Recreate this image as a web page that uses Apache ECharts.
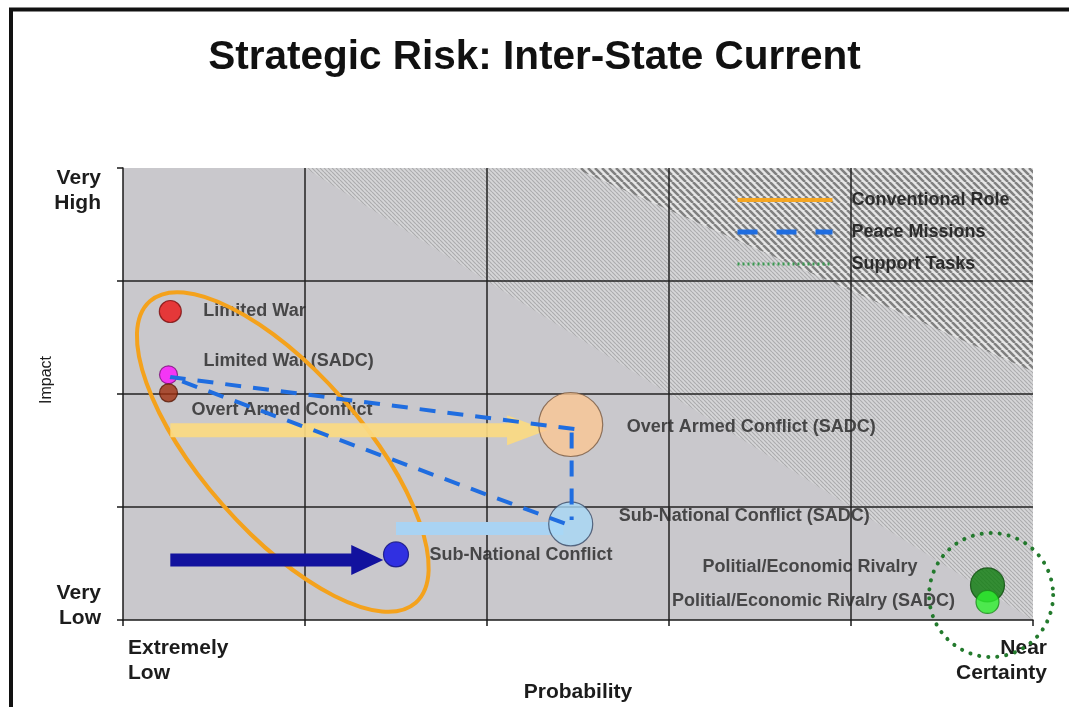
<!DOCTYPE html>
<html><head><meta charset="utf-8">
<script src="https://cdn.jsdelivr.net/npm/echarts@6/dist/echarts.min.js"></script>
<style>html,body{margin:0;padding:0;background:#fff}#c{width:1069px;height:707px}</style>
</head><body><div id="c"></div>
<script>
// ---------- data ----------
const riskNames = ['Limited War','Limited War (SADC)','Overt Armed Conflict','Overt Armed Conflict (SADC)',
  'Sub-National Conflict (SADC)','Sub-National Conflict','Politial/Economic Rivalry','Politial/Economic Rivalry (SADC)'];
const probability = [0.26, 0.25, 0.25, 2.46, 2.46, 1.50, 4.75, 4.75];
const impact      = [2.73, 2.17, 2.01, 1.73, 0.85, 0.58, 0.31, 0.16];
const xTickLabels = {0: 'Extremely\nLow', 5: 'Near\nCertainty'};
const yTickLabels = {0: 'Very\nLow', 4: 'Very\nHigh'};
const legendNames = ['Conventional Role', 'Peace Missions', 'Support Tasks'];
// peace-mission links (probability, impact)
const peaceLinkA = [[2.48, 1.69], [0.26, 2.15], [2.45, 0.84]];
const peaceLinkB = [[2.465, 1.66], [2.465, 0.885]];
// movement arrows: [fromX, fromY, toX, toY]
const arrowMoves = [[0.26, 1.68, 2.33, 1.68], [0.26, 0.53, 1.43, 0.53], [1.50, 0.81, 2.42, 0.81]];
// grouping outlines: centres
const conventionalCentre = [[0.878, 1.487]];
const supportCentre = [[4.77, 0.221]];
// background risk zones (polygons in axis units)
const zoneFine = [[1, 4], [5, 4], [5, 0]];
const zoneDense = [[2.48, 4], [5, 4], [5, 2.2]];

// ---------- styles ----------
const pointColors  = ['#ec1414','#ff12ff','#a0300f','#fbc793','#a8d8f6','#0a0ae6','#0b7a0b','#2ef02e'];
const pointBorders = ['#7a1010','#7a107a','#5a1a08','#7a5a40','#3a4a66','#10107a','#0a4a0a','#1a8a1a'];
const pointSizes   = [22, 18, 18, 64, 44, 25, 34, 23];
const labelCfg = [
  {position:'right', distance:22, offset:[0,0]},
  {position:'right', distance:26, offset:[0,-14]},
  {position:'right', distance:14, offset:[0,17]},
  {position:'right', distance:24, offset:[0,3]},
  {position:'right', distance:26, offset:[0,-8]},
  {position:'right', distance:21, offset:[0,1]},
  {position:'left',  distance:53, offset:[0,-18]},
  {position:'left',  distance:21, offset:[0,-1]}
];
const arrowColors = ['rgba(251,218,130,0.92)', '#12129e', '#a9d3f3'];
const arrowShaft  = [14, 13, 13];
const arrowHeadLen = [40, 32, 0];
const arrowHeadHalf = [15, 15, 6.5];

function makeHatch(p, bg, fg, w) {
  const c = document.createElement('canvas'); c.width = p; c.height = p;
  const g = c.getContext('2d'); g.fillStyle = bg; g.fillRect(0, 0, p, p);
  g.strokeStyle = fg; g.lineWidth = w; g.beginPath();
  for (const o of [-p, 0, p]) { g.moveTo(o, 0); g.lineTo(o + p, p); }
  g.stroke(); return c;
}
const finePattern = {image: makeHatch(4, '#d6d6d8', '#acacae', 1.2), repeat: 'repeat'};
const densePattern = {image: makeHatch(7, '#e6e6e6', '#808080', 2.5), repeat: 'repeat'};

const chart = echarts.init(document.getElementById('c'), null, {renderer: 'canvas'});
const txt = '#1c1c1c';
const axisLineStyle = {color: '#1a1a1a', width: 1.5};

function zoneSeries(poly, fill) {
  return {type: 'custom', z: 0.5, silent: true, data: [0],
    renderItem: (p, api) => ({type: 'polygon', shape: {points: poly.map(v => api.coord(v))}, style: {fill: fill}})};
}

const scatterData = riskNames.map((n, i) => ({name: n, value: [probability[i], impact[i]]}));

const option = {
  animation: false,
  backgroundColor: '#ffffff',
  title: {text: 'Strategic Risk: Inter-State Current', left: 'center', top: 32,
    textStyle: {fontSize: 40.5, fontWeight: 'bold', color: '#111', fontFamily: 'Liberation Sans'}},
  textStyle: {fontFamily: 'Liberation Sans'},
  grid: {left: 123, right: 36, top: 168, bottom: 87, show: true, backgroundColor: '#c9c8cc', borderWidth: 0,
    z: 0, outerBoundsMode: 'none', containLabel: false},
  legend: {orient: 'vertical', left: 735, top: 191, padding: 0, itemWidth: 95, itemHeight: 14, itemGap: 14,
    selectedMode: false,
    itemStyle: {color: 'rgba(0,0,0,0)', borderColor: 'rgba(0,0,0,0)', borderWidth: 0, opacity: 0},
    textStyle: {fontSize: 18, fontWeight: 'bold', color: '#2b2b2b', padding: [0, 0, 0, 14]},
    data: [
      {name: legendNames[0], lineStyle: {color: '#f5a623', width: 4, type: 'solid'}},
      {name: legendNames[1], lineStyle: {color: '#1f6de0', width: 5, type: [20, 19]}},
      {name: legendNames[2], lineStyle: {color: '#3a9a50', width: 3, type: [2, 3]}}
    ]},
  xAxis: {type: 'value', min: 0, max: 5, interval: 1, z: 1,
    axisLine: {show: true, lineStyle: axisLineStyle},
    axisTick: {show: true, length: 6, lineStyle: axisLineStyle},
    splitLine: {show: true, showMinLine: false, showMaxLine: false, lineStyle: {color: '#222', width: 1.5}},
    axisLabel: {formatter: v => xTickLabels[v] || '', fontSize: 21, fontWeight: 'bold', color: txt, lineHeight: 25,
      margin: 16, alignMinLabel: 'left', alignMaxLabel: 'right', padding: [0, -14, 0, 5]},
    name: 'Probability', nameLocation: 'middle', nameGap: 62, nameMoveOverlap: false,
    nameTextStyle: {fontSize: 21, fontWeight: 'bold', color: txt}},
  yAxis: {type: 'value', min: 0, max: 4, interval: 1, z: 1,
    axisLine: {show: true, lineStyle: axisLineStyle},
    axisTick: {show: true, length: 6, lineStyle: axisLineStyle},
    splitLine: {show: true, showMinLine: false, showMaxLine: false, lineStyle: {color: '#222', width: 1.5}},
    axisLabel: {formatter: v => yTickLabels[v] || '', fontSize: 21, fontWeight: 'bold', color: txt, lineHeight: 25,
      margin: 22, align: 'right', verticalAlignMinLabel: 'bottom', verticalAlignMaxLabel: 'top',
      padding: [-2, 0, -11, 0]},
    name: 'Impact', nameLocation: 'middle', nameGap: 68, nameMoveOverlap: false,
    nameTextStyle: {fontSize: 16, color: txt, padding: [0, 0, 0, 28]}},
  graphic: [
    {type: 'line', shape: {x1: 11, y1: 8, x2: 11, y2: 707}, style: {stroke: '#111', lineWidth: 4}},
    {type: 'line', shape: {x1: 9, y1: 9.5, x2: 1069, y2: 9.5}, style: {stroke: '#111', lineWidth: 4}}
  ],
  series: [
    // legend carriers
    {type: 'line', name: legendNames[0], data: [], symbol: 'none', lineStyle: {color: '#f5a623', width: 4}, color: '#f5a623'},
    {type: 'line', name: legendNames[1], data: peaceLinkA, symbol: 'none', showSymbol: false, z: 6, silent: true,
      color: '#1f6de0', lineStyle: {color: '#1f6de0', width: 4, type: [16, 12]}},
    {type: 'line', name: legendNames[2], data: [], symbol: 'none', lineStyle: {color: '#3a9a50', width: 3, type: 'dotted'}, color: '#3a9a50'},
    {type: 'line', data: peaceLinkB, symbol: 'none', showSymbol: false, z: 6, silent: true,
      lineStyle: {color: '#1f6de0', width: 4, type: [16, 12]}},
    zoneSeries(zoneFine, finePattern),
    zoneSeries(zoneDense, densePattern),
    // labels (under outlines)
    {type: 'scatter', z: 2, silent: true,
      data: scatterData.map((d, i) => ({name: d.name, value: d.value,
        label: {position: labelCfg[i].position, distance: labelCfg[i].distance, offset: labelCfg[i].offset}})),
      symbolSize: (v, p) => pointSizes[p.dataIndex],
      itemStyle: {color: 'transparent'},
      label: {show: true, formatter: p => p.name, fontSize: 18, fontWeight: 'bold', color: '#262626'},
      emphasis: {disabled: true}},
    // conventional role outline
    {type: 'custom', z: 3, silent: true, clip: false, data: conventionalCentre,
      renderItem: (p, api) => {
        const c = api.coord([api.value(0), api.value(1)]);
        return {type: 'ellipse', x: c[0], y: c[1], rotation: -48.6 * Math.PI / 180,
          shape: {cx: 0, cy: 0, rx: 201, ry: 80}, style: {fill: 'none', stroke: '#f4a21c', lineWidth: 4}};
      }},
    // movement arrows
    {type: 'custom', z: 4, silent: true, data: arrowMoves,
      renderItem: (p, api) => {
        const i = p.dataIndex;
        const a = api.coord([api.value(0), api.value(1)]);
        const b = api.coord([api.value(2), api.value(3)]);
        const dx = b[0] - a[0], dy = b[1] - a[1], L = Math.hypot(dx, dy);
        const ux = dx / L, uy = dy / L, nx = -uy, ny = ux;
        const s = arrowShaft[i] / 2, hl = arrowHeadLen[i], hw = arrowHeadHalf[i];
        const bx = b[0] - ux * hl, by = b[1] - uy * hl;
        const pts = [[a[0] + nx * s, a[1] + ny * s], [bx + nx * s, by + ny * s], [bx + nx * hw, by + ny * hw], [b[0], b[1]],
          [bx - nx * hw, by - ny * hw], [bx - nx * s, by - ny * s], [a[0] - nx * s, a[1] - ny * s]];
        return {type: 'polygon', shape: {points: pts}, style: {fill: arrowColors[i]}};
      }},
    // risk bubbles
    {type: 'scatter', z: 5, silent: true,
      data: scatterData.map((d, i) => ({name: d.name, value: d.value,
        itemStyle: {color: pointColors[i], borderColor: pointBorders[i], borderWidth: 1.2}})),
      symbolSize: (v, p) => pointSizes[p.dataIndex],
      emphasis: {disabled: true}},
    // support tasks outline
    {type: 'custom', z: 6, silent: true, clip: false, data: supportCentre,
      renderItem: (p, api) => {
        const c = api.coord([api.value(0), api.value(1)]);
        return {type: 'circle', shape: {cx: c[0], cy: c[1], r: 62},
          style: {fill: 'none', stroke: '#237a2d', lineWidth: 4, lineDash: [0.1, 9], lineCap: 'round'}};
      }}
  ]
};
chart.setOption(option);
</script>
</body></html>
